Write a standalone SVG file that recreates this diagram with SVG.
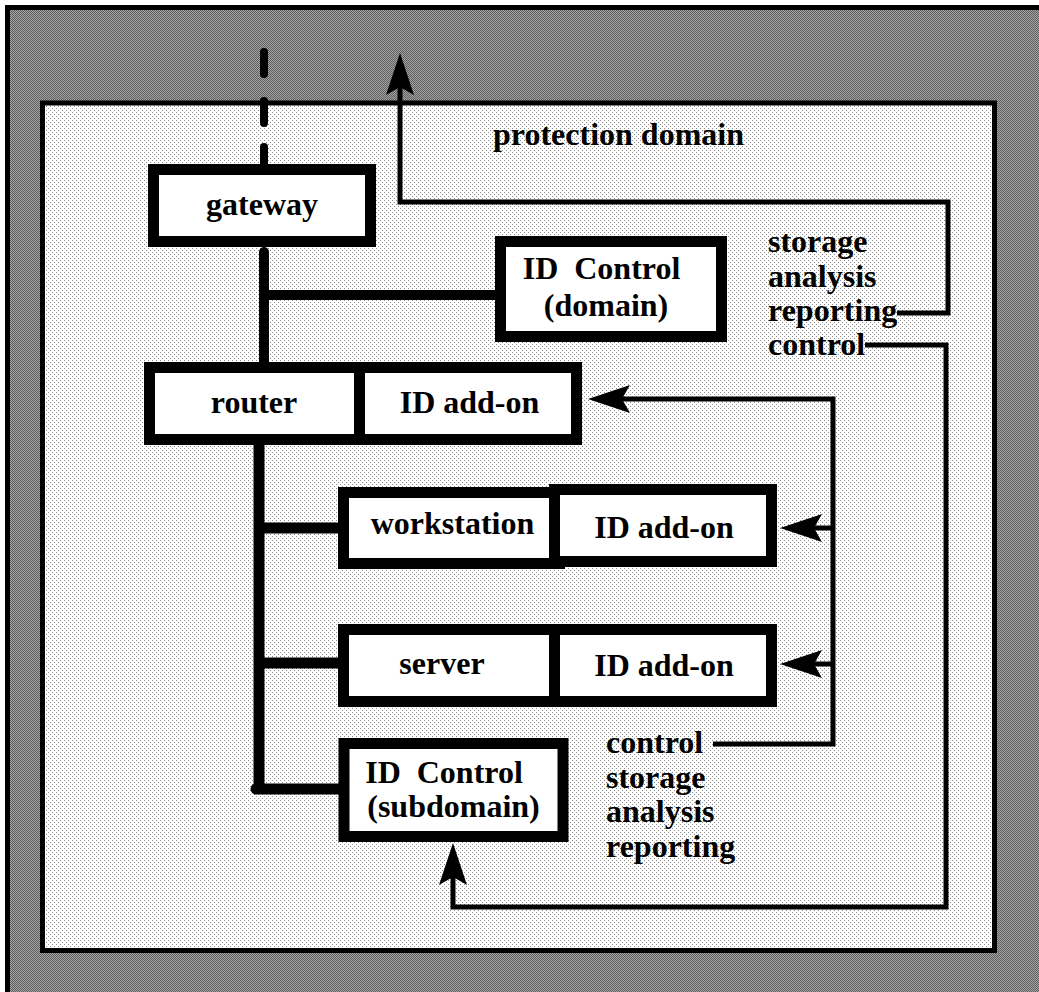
<svg xmlns="http://www.w3.org/2000/svg" width="1039" height="992" viewBox="0 0 1039 992">
<style>
text{font-family:"Liberation Serif","Times New Roman",serif;font-weight:bold;font-size:32px;fill:#000;white-space:pre}
.c{text-anchor:middle}
.box{fill:#fff;stroke:#000;stroke-width:11}
.bus{stroke:#000;fill:none}
.wire{stroke:#000;stroke-width:5;fill:none;stroke-linejoin:miter}
</style>
<defs>
<pattern id="grey" width="2" height="2" patternUnits="userSpaceOnUse">
<rect width="2" height="2" fill="#a4a4a4"/>
<rect width="1" height="1" fill="#5e5e5e"/>
<rect x="1" y="1" width="1" height="1" fill="#5e5e5e"/>
</pattern>
<pattern id="dots" width="4" height="4" patternUnits="userSpaceOnUse">
<rect width="4" height="4" fill="#fff"/>
<rect width="1" height="1" fill="#8a8a8a"/>
<rect x="2" y="2" width="1" height="1" fill="#8a8a8a"/>
</pattern>
<marker id="arr" markerUnits="userSpaceOnUse" viewBox="-12 -16 50 32" markerWidth="50" markerHeight="32" refX="0" refY="0" orient="auto">
<path d="M34,0 L-8,-14 L0,0 L-8,14 Z" fill="#000"/>
</marker>
</defs>
<rect width="1039" height="992" fill="#fff"/>
<g id="outer-frame">
<rect x="7.5" y="7.5" width="1100" height="1100" fill="url(#grey)" stroke="#000" stroke-width="5"/>
</g>
<g id="protection-domain">
<rect x="42.5" y="103" width="952" height="847.5" fill="url(#dots)" stroke="#000" stroke-width="5"/>
<text x="493" y="145">protection domain</text>
</g>
<g id="connectors">
<g stroke="#000" stroke-width="8" stroke-linecap="round">
<line x1="264" y1="52" x2="264" y2="74"/>
<line x1="264" y1="101" x2="264" y2="123"/>
<line x1="264" y1="147" x2="264" y2="170"/>
</g>
<path class="bus" stroke-width="10" stroke-linecap="round" d="M264,252 V362"/>
<path class="bus" stroke-width="10" d="M264,295 H496"/>
<path class="bus" stroke-width="11" d="M259,445 V789"/>
<path class="bus" stroke-width="11" stroke-linecap="round" d="M256,789 H339"/>
<path class="bus" stroke-width="11" d="M259,528 H339"/>
<path class="bus" stroke-width="11" d="M259,663 H339"/>
<path class="wire" d="M897,313 H948 V202 H400 V87" marker-end="url(#arr)"/>
<path class="wire" d="M865,345 H946 V907 H453 V877" marker-end="url(#arr)"/>
<path class="wire" d="M713,744 H833 V399 H622" marker-end="url(#arr)"/>
<path class="wire" d="M833,528 H814" marker-end="url(#arr)"/>
<path class="wire" d="M833,664 H814" marker-end="url(#arr)"/>
</g>
<g id="gateway">
<rect class="box" x="153.5" y="169.5" width="217" height="72"/>
<text class="c" x="262" y="215">gateway</text>
</g>
<g id="id-control-domain">
<rect class="box" x="500.5" y="241.5" width="221" height="95"/>
<text class="c" x="601.5" y="279">ID  Control</text>
<text class="c" x="606" y="316">(domain)</text>
</g>
<g id="router">
<rect class="box" x="149.5" y="367.5" width="210" height="72"/>
<text class="c" x="254" y="413">router</text>
</g>
<g id="router-id-addon">
<rect class="box" x="359.5" y="367.5" width="217" height="72"/>
<text class="c" x="469.5" y="413">ID add-on</text>
</g>
<g id="workstation">
<rect class="box" x="343.5" y="492.5" width="216" height="71"/>
<text class="c" x="452.5" y="534">workstation</text>
</g>
<g id="workstation-id-addon">
<rect class="box" x="554.5" y="489.5" width="217" height="72"/>
<text class="c" x="664" y="538">ID add-on</text>
</g>
<g id="server">
<rect class="box" x="343.5" y="629.5" width="211" height="72"/>
<text class="c" x="442" y="674">server</text>
</g>
<g id="server-id-addon">
<rect class="box" x="554.5" y="629.5" width="217" height="72"/>
<text class="c" x="664" y="676">ID add-on</text>
</g>
<g id="id-control-subdomain">
<rect class="box" x="344" y="743.5" width="219" height="93"/>
<text class="c" x="444" y="783">ID  Control</text>
<text class="c" x="453.5" y="817">(subdomain)</text>
</g>
<g id="labels-domain">
<text x="768" y="252">storage</text>
<text x="768" y="287">analysis</text>
<text x="768" y="321">reporting</text>
<text x="768" y="355">control</text>
</g>
<g id="labels-subdomain">
<text x="606" y="753">control</text>
<text x="606" y="788">storage</text>
<text x="606" y="822">analysis</text>
<text x="606" y="857">reporting</text>
</g>
</svg>
